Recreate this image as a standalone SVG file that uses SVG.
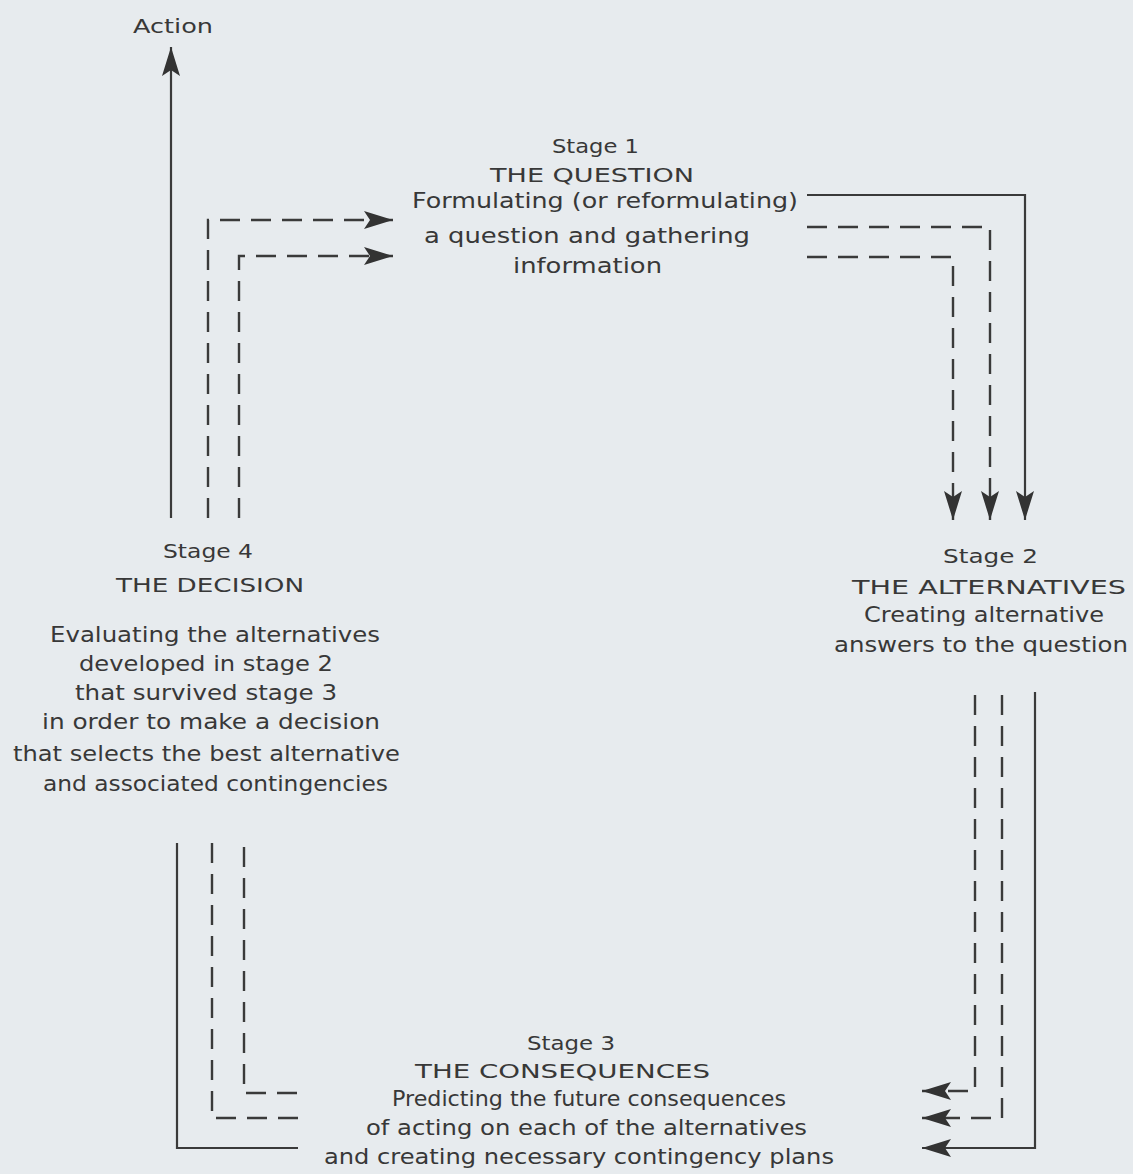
<svg xmlns="http://www.w3.org/2000/svg" width="1133" height="1174" viewBox="0 0 1133 1174">
<style>
text{font-family:"DejaVu Sans","Liberation Sans",sans-serif;fill:#383838;font-size:21px}
.st{font-size:20px}
.cap{font-size:20px}
.ln{fill:none;stroke:#3a3a3a;stroke-width:2.2}
.ds{stroke-dasharray:20 11;stroke-width:2.4}
</style>
<defs>
<marker id="ah" markerUnits="userSpaceOnUse" markerWidth="30" markerHeight="20" viewBox="0 0 30 20" refX="29" refY="10" orient="auto">
<path d="M0,1 L29,10 L0,19 L6,10 z" fill="#333"/>
</marker>
</defs>
<rect width="1133" height="1174" fill="#e7ebee"/>
<g id="action"><text x="133" y="33" class="st" textLength="80" lengthAdjust="spacingAndGlyphs">Action</text></g>
<g id="stage1">
<text x="552" y="153" class="st" textLength="87" lengthAdjust="spacingAndGlyphs">Stage 1</text>
<text x="490" y="182" class="cap" textLength="204" lengthAdjust="spacingAndGlyphs">THE QUESTION</text>
<text x="412" y="208" textLength="386" lengthAdjust="spacingAndGlyphs">Formulating (or reformulating)</text>
<text x="424" y="243" textLength="326" lengthAdjust="spacingAndGlyphs">a question  and  gathering</text>
<text x="513" y="273" textLength="149" lengthAdjust="spacingAndGlyphs">information</text>
</g>
<g id="stage2">
<text x="943" y="563" class="st" textLength="95" lengthAdjust="spacingAndGlyphs">Stage 2</text>
<text x="852" y="594" class="cap" textLength="274" lengthAdjust="spacingAndGlyphs">THE ALTERNATIVES</text>
<text x="864" y="622" textLength="240" lengthAdjust="spacingAndGlyphs">Creating alternative</text>
<text x="834" y="652" textLength="294" lengthAdjust="spacingAndGlyphs">answers to the question</text>
</g>
<g id="stage3">
<text x="527" y="1050" class="st" textLength="88" lengthAdjust="spacingAndGlyphs">Stage 3</text>
<text x="415" y="1078" class="cap" textLength="295" lengthAdjust="spacingAndGlyphs">THE CONSEQUENCES</text>
<text x="392" y="1106" textLength="394" lengthAdjust="spacingAndGlyphs">Predicting the future consequences</text>
<text x="366" y="1135" textLength="441" lengthAdjust="spacingAndGlyphs">of acting on each of the alternatives</text>
<text x="324" y="1164" textLength="510" lengthAdjust="spacingAndGlyphs">and creating necessary contingency plans</text>
</g>
<g id="stage4">
<text x="163" y="558" class="st" textLength="90" lengthAdjust="spacingAndGlyphs">Stage 4</text>
<text x="116" y="592" class="cap" textLength="188" lengthAdjust="spacingAndGlyphs">THE DECISION</text>
<text x="50" y="642" textLength="330" lengthAdjust="spacingAndGlyphs">Evaluating the alternatives</text>
<text x="79" y="671" textLength="254" lengthAdjust="spacingAndGlyphs">developed  in stage 2</text>
<text x="75" y="700" textLength="262" lengthAdjust="spacingAndGlyphs">that  survived stage 3</text>
<text x="42" y="729" textLength="338" lengthAdjust="spacingAndGlyphs">in order to make a decision</text>
<text x="13" y="761" textLength="387" lengthAdjust="spacingAndGlyphs">that selects the best  alternative</text>
<text x="43" y="791" textLength="345" lengthAdjust="spacingAndGlyphs">and associated contingencies</text>
</g>
<g id="connectors">
<path class="ln" d="M171,518 V47" marker-end="url(#ah)"/>
<path class="ln ds" d="M208,518 V220 H393" marker-end="url(#ah)"/>
<path class="ln ds" d="M239,518 V256 H393" marker-end="url(#ah)"/>
<path class="ln" d="M807,195 H1025 V520" marker-end="url(#ah)"/>
<path class="ln ds" d="M807,227 H990 V520" marker-end="url(#ah)"/>
<path class="ln ds" d="M807,257 H953 V520" marker-end="url(#ah)"/>
<path class="ln" d="M1035,692 V1148 H922" marker-end="url(#ah)"/>
<path class="ln ds" d="M1002,695 V1118 H922" marker-end="url(#ah)"/>
<path class="ln ds" d="M975,695 V1091 H922" marker-end="url(#ah)"/>
<path class="ln" d="M298,1148 H177 V843"/>
<path class="ln ds" d="M298,1118 H212 V843"/>
<path class="ln ds" d="M297,1093 H244 V843"/>
</g>
</svg>
